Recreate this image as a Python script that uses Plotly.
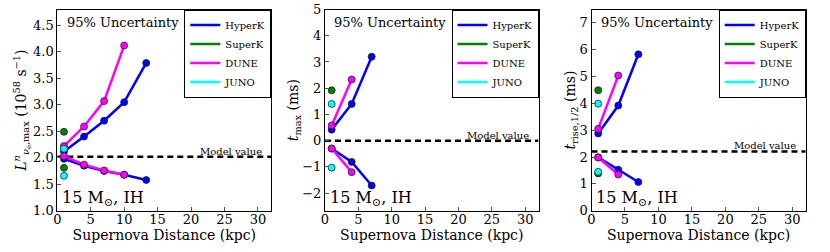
import plotly.graph_objects as go

# ---------------- data ----------------
series_names = ["HyperK", "SuperK", "DUNE", "JUNO"]
series_colors = {"HyperK": "#0000ff", "SuperK": "#007f00", "DUNE": "#ff00ff", "JUNO": "#00ffff"}

# Panel 1: L^n_{nu_e,max}
p1_hk_x = [1, 4, 7, 10, 13.3]
p1_hk_up = [2.12, 2.40, 2.70, 3.05, 3.79]
p1_hk_lo = [1.98, 1.85, 1.75, 1.68, 1.58]
p1_dune_x = [1, 4, 7, 10]
p1_dune_up = [2.22, 2.59, 3.07, 4.12]
p1_dune_lo = [2.03, 1.87, 1.76, 1.68]
p1_sk_x = [1, 1]
p1_sk_y = [2.49, 1.81]
p1_juno_x = [1, 1]
p1_juno_y = [2.17, 1.66]
p1_model = 2.02

# Panel 2: t_max
p2_hk_x = [1, 4, 7]
p2_hk_up = [0.42, 1.40, 3.20]
p2_hk_lo = [-0.30, -0.81, -1.71]
p2_dune_x = [1, 4]
p2_dune_up = [0.58, 2.33]
p2_dune_lo = [-0.30, -1.20]
p2_sk_x = [1]
p2_sk_y = [1.92]
p2_juno_x = [1, 1]
p2_juno_y = [1.40, -1.03]
p2_model = 0.0

# Panel 3: t_rise,1/2
p3_hk_x = [1, 4, 7]
p3_hk_up = [2.88, 3.92, 5.83]
p3_hk_lo = [1.99, 1.53, 1.07]
p3_dune_x = [1, 4]
p3_dune_up = [3.05, 5.04]
p3_dune_lo = [1.98, 1.35]
p3_sk_x = [1, 1]
p3_sk_y = [4.49, 1.39]
p3_juno_x = [1, 1]
p3_juno_y = [3.99, 1.45]
p3_model = 2.21

x_ticks = [0, 5, 10, 15, 20, 25, 30]
p1_yticks = [1.0, 1.5, 2.0, 2.5, 3.0, 3.5, 4.0, 4.5]
p2_yticks = [-2, -1, 0, 1, 2, 3, 4, 5]
p3_yticks = [0, 1, 2, 3, 4, 5, 6, 7]
x_range = [0, 32]
p1_yrange = [1.0, 4.8]
p2_yrange = [-2.67, 5.0]
p3_yrange = [0, 7.5]

y_titles = [
    "<i>L</i><sup><i>n</i></sup><sub><i>ν</i><sub>e</sub>,max</sub> (10<sup>58</sup> s<sup>−1</sup>)",
    "<i>t</i><sub>max</sub> (ms)",
    "<i>t</i><sub>rise,1/2</sub> (ms)",
]
x_title = "Supernova Distance (kpc)"

# ---------------- layout constants ----------------
FONT = "DejaVu Serif"
W, H = 830, 252
x_domains = [[57.3 / W, 271.3 / W], [325.0 / W, 538.5 / W], [591.5 / W, 805.7 / W]]
y_domain = [41.3 / H, 242.5 / H]

fig = go.Figure()

panels = [
    dict(hk=(p1_hk_x, p1_hk_up, p1_hk_lo), dune=(p1_dune_x, p1_dune_up, p1_dune_lo),
         sk=(p1_sk_x, p1_sk_y), juno=(p1_juno_x, p1_juno_y), model=p1_model,
         yticks=p1_yticks, yrange=p1_yrange, fmt=".1f"),
    dict(hk=(p2_hk_x, p2_hk_up, p2_hk_lo), dune=(p2_dune_x, p2_dune_up, p2_dune_lo),
         sk=(p2_sk_x, p2_sk_y), juno=(p2_juno_x, p2_juno_y), model=p2_model,
         yticks=p2_yticks, yrange=p2_yrange, fmt="d"),
    dict(hk=(p3_hk_x, p3_hk_up, p3_hk_lo), dune=(p3_dune_x, p3_dune_up, p3_dune_lo),
         sk=(p3_sk_x, p3_sk_y), juno=(p3_juno_x, p3_juno_y), model=p3_model,
         yticks=p3_yticks, yrange=p3_yrange, fmt="d"),
]

marker_line = dict(color="#222222", width=0.8)

for i, p in enumerate(panels):
    xa = "x" if i == 0 else f"x{i+1}"
    ya = "y" if i == 0 else f"y{i+1}"
    leg = "legend" if i == 0 else f"legend{i+1}"

    # legend entries (line only)
    for name in series_names:
        fig.add_trace(go.Scatter(x=[None], y=[None], mode="lines", name=name,
                                 line=dict(color=series_colors[name], width=2.5),
                                 xaxis=xa, yaxis=ya, legend=leg, showlegend=True))

    # model value line
    fig.add_trace(go.Scatter(x=x_range, y=[p["model"], p["model"]], mode="lines",
                             line=dict(color="black", width=2.5, dash="6px,4px"),
                             xaxis=xa, yaxis=ya, showlegend=False, hoverinfo="skip"))

    # HyperK
    hx, hu, hl = p["hk"]
    for yy in (hu, hl):
        fig.add_trace(go.Scatter(x=hx, y=yy, mode="lines+markers",
                                 line=dict(color=series_colors["HyperK"], width=2.5),
                                 marker=dict(size=7, color=series_colors["HyperK"], line=marker_line),
                                 xaxis=xa, yaxis=ya, showlegend=False))
    # SuperK
    sx, sy = p["sk"]
    fig.add_trace(go.Scatter(x=sx, y=sy, mode="markers",
                             marker=dict(size=7, color=series_colors["SuperK"], line=marker_line),
                             xaxis=xa, yaxis=ya, showlegend=False))
    # DUNE
    dx, du, dl = p["dune"]
    for yy in (du, dl):
        fig.add_trace(go.Scatter(x=dx, y=yy, mode="lines+markers",
                                 line=dict(color=series_colors["DUNE"], width=2.5),
                                 marker=dict(size=7, color=series_colors["DUNE"], line=marker_line),
                                 xaxis=xa, yaxis=ya, showlegend=False))
    # JUNO
    jx, jy = p["juno"]
    fig.add_trace(go.Scatter(x=jx, y=jy, mode="markers",
                             marker=dict(size=7, color=series_colors["JUNO"], line=marker_line),
                             xaxis=xa, yaxis=ya, showlegend=False))

    axis_common = dict(showline=True, linecolor="black", linewidth=1, mirror=True,
                       ticks="inside", ticklen=4, tickcolor="#555555", showgrid=False,
                       zeroline=False, automargin=False,
                       tickfont=dict(family=FONT, size=13, color="black"))
    fig.update_layout(**{
        ("xaxis" if i == 0 else f"xaxis{i+1}"): dict(
            domain=x_domains[i], range=x_range, tickvals=x_ticks, anchor=ya,
            ticklabelstandoff=-3,
            title=dict(text=x_title, font=dict(family=FONT, size=14, color="black"), standoff=0),
            **axis_common),
        ("yaxis" if i == 0 else f"yaxis{i+1}"): dict(
            domain=y_domain, range=p["yrange"], tickvals=p["yticks"], tickformat=p["fmt"], anchor=xa,
            title=dict(text=y_titles[i], font=dict(family=FONT, size=14, color="black"), standoff=0),
            **axis_common),
        leg: dict(x=x_domains[i][1], y=y_domain[1], xanchor="right", yanchor="top",
                  bgcolor="white", bordercolor="black", borderwidth=1,
                  font=dict(family=FONT, size=10, color="black"),
                  tracegroupgap=0, itemwidth=30),
    })

    fig.add_annotation(text="95% Uncertainty", xref=f"{xa} domain", yref=f"{ya} domain",
                       x=0.035, y=0.935, xanchor="left", yanchor="middle", showarrow=False,
                       font=dict(family=FONT, size=13, color="black"))
    fig.add_annotation(text="15 M<sub>⊙</sub>, IH", xref=f"{xa} domain", yref=f"{ya} domain",
                       x=0.012, y=0.06, xanchor="left", yanchor="middle", showarrow=False,
                       font=dict(family=FONT, size=16, color="black"))
    fig.add_annotation(text="Model value", xref=xa, yref=ya, x=30.9, y=p["model"],
                       xanchor="right", yanchor="bottom", showarrow=False, yshift=-2,
                       font=dict(family=FONT, size=10, color="black"))

fig.update_layout(width=W, height=H, margin=dict(l=0, r=0, t=0, b=0, autoexpand=False),
                  font=dict(family=FONT, color="black"),
                  paper_bgcolor="white", plot_bgcolor="white")

fig.write_html("out.html", config={"displayModeBar": False},
               post_script="document.body.style.margin='0px';")
